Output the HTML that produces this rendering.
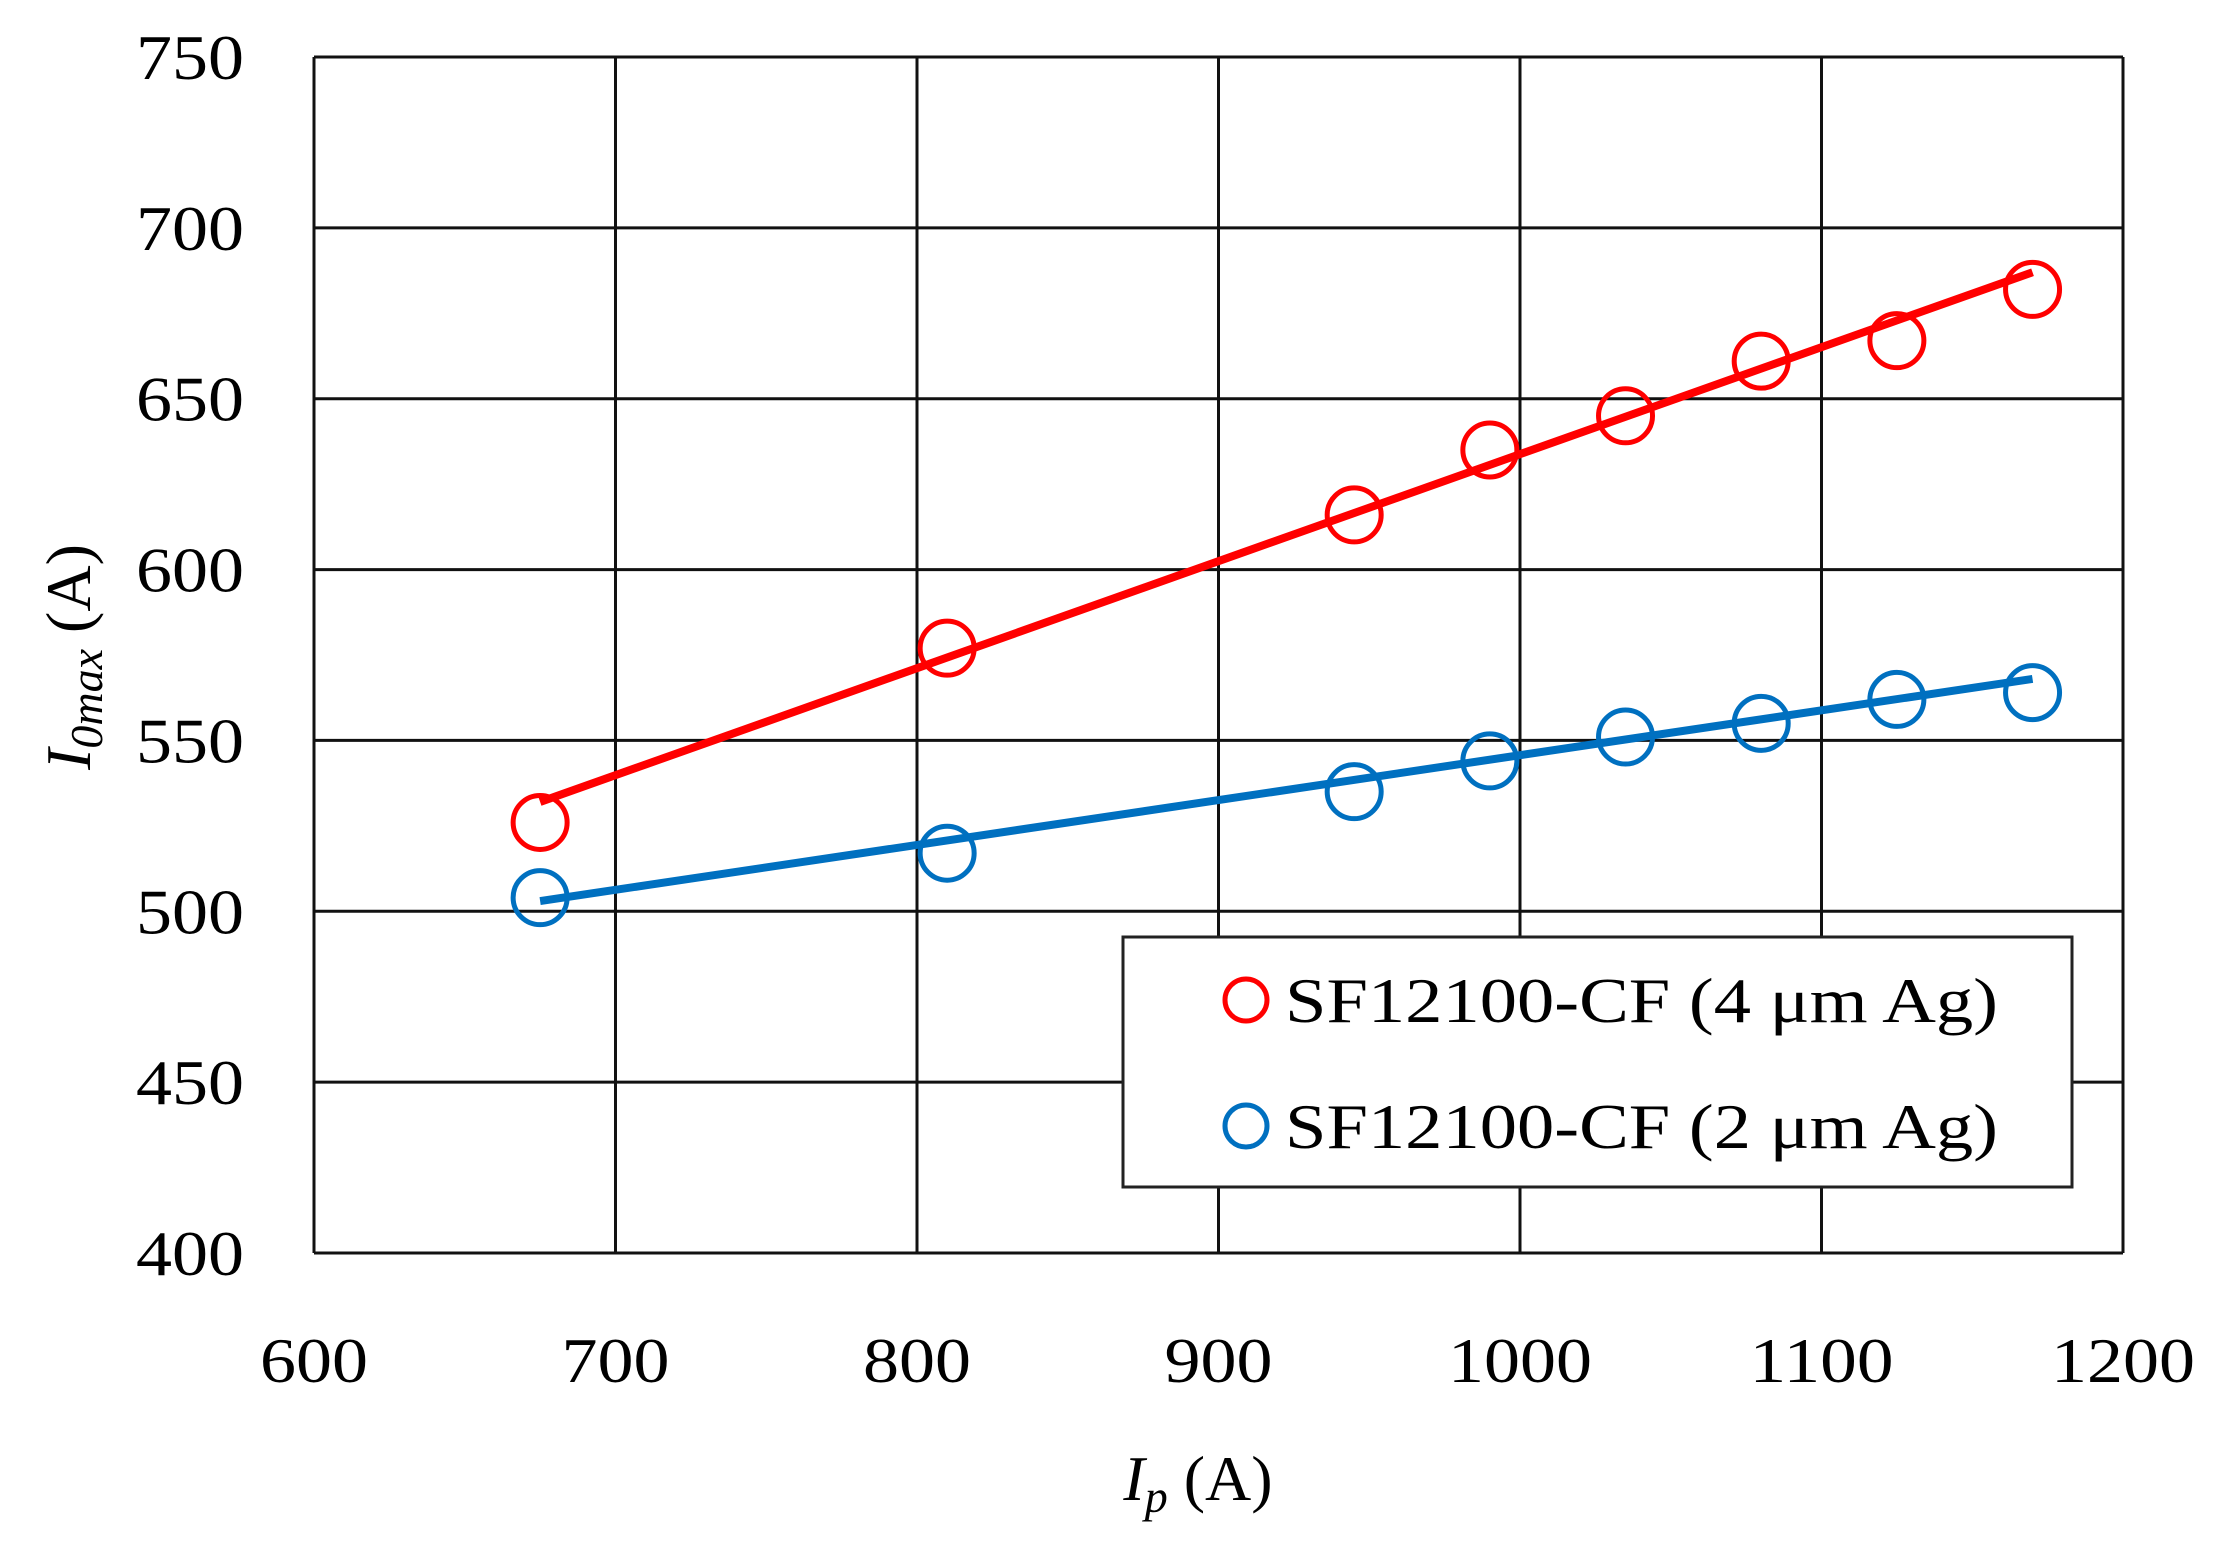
<!DOCTYPE html>
<html><head><meta charset="utf-8"><style>
html,body{margin:0;padding:0;background:#fff;}
svg{display:block;font-family:"Liberation Serif","DejaVu Serif",serif;}
</style></head><body>
<svg id="chart" width="2215" height="1556" viewBox="0 0 2215 1556" xmlns="http://www.w3.org/2000/svg">
<g id="grid"></g>
<g id="yticks"></g>
<g id="xticks"></g>
<g id="series"></g>
<text transform="translate(90,657) rotate(-90)" text-anchor="middle" font-size="64"><tspan font-style="italic">I</tspan><tspan font-style="italic" font-size="46" dy="12">0max</tspan><tspan dy="-12"> (A)</tspan></text>
<text x="1198" y="1500" text-anchor="middle" font-size="64"><tspan font-style="italic">I</tspan><tspan font-style="italic" font-size="46" dy="12">p</tspan><tspan dy="-12"> (A)</tspan></text>
<g>
<rect x="1123" y="937" width="949" height="250" fill="#fff" stroke="#222" stroke-width="3"/>
<circle cx="1246" cy="1000" r="21" fill="none" stroke="#ff0000" stroke-width="5"/>
<text x="1285" y="1022" font-size="64" textLength="713" lengthAdjust="spacingAndGlyphs">SF12100-CF (4 μm Ag)</text>
<circle cx="1246" cy="1126" r="21" fill="none" stroke="#0070c0" stroke-width="5"/>
<text x="1285" y="1148" font-size="64" textLength="713" lengthAdjust="spacingAndGlyphs">SF12100-CF (2 μm Ag)</text>
</g>
</svg>
<script>
const xTicks=[600,700,800,900,1000,1100,1200];
const yTicks=[400,450,500,550,600,650,700,750];
const xVals=[675,810,945,990,1035,1080,1125,1170];
const red4um=[526,577,616,635,645,661,667,682];
const blue2um=[504,517,535,544,551,555,562,564];
const redFit=[532,687];
const blueFit=[503,568];
const fitX=[675,1170];

const L=314,R=2123,T=57,B=1253;
const sx=v=>L+(v-600)/600*(R-L);
const sy=v=>B-(v-400)/350*(B-T);
const NS='http://www.w3.org/2000/svg';
function mk(tag,parent,attrs){const e=document.createElementNS(NS,tag);for(const k in attrs)e.setAttribute(k,attrs[k]);parent.appendChild(e);return e;}
const grid=document.getElementById('grid');
xTicks.forEach(v=>{const l=mk('line',grid,{x1:sx(v),x2:sx(v),y1:T,y2:B,stroke:'#111','stroke-width':3});

});
yTicks.forEach(v=>{const l=mk('line',grid,{x1:L,x2:R,y1:sy(v),y2:sy(v),stroke:'#111','stroke-width':3});

});
const yt=document.getElementById('yticks');
yTicks.forEach(v=>{const t=mk('text',yt,{x:244,y:sy(v)+22,'text-anchor':'end','font-size':64,textLength:108,lengthAdjust:'spacingAndGlyphs'});t.textContent=v;

});
const xt=document.getElementById('xticks');
xTicks.forEach(v=>{const s=String(v);const t=mk('text',xt,{x:sx(v),y:1382,'text-anchor':'middle','font-size':64,textLength:s.length*36,lengthAdjust:'spacingAndGlyphs'});t.textContent=s;

});
const sg=document.getElementById('series');
function series(vals,fit,color,name){
 const ln=mk('line',sg,{x1:sx(fitX[0]),y1:sy(fit[0]),x2:sx(fitX[1]),y2:sy(fit[1]),stroke:color,'stroke-width':8});
 
 
 vals.forEach((v,i)=>{const c=mk('circle',sg,{cx:sx(xVals[i]),cy:sy(v),r:27,fill:'none',stroke:color,'stroke-width':5});
 
 });
}
series(red4um,redFit,'#ff0000','series-4um');
series(blue2um,blueFit,'#0070c0','series-2um');
</script>
</body></html>
